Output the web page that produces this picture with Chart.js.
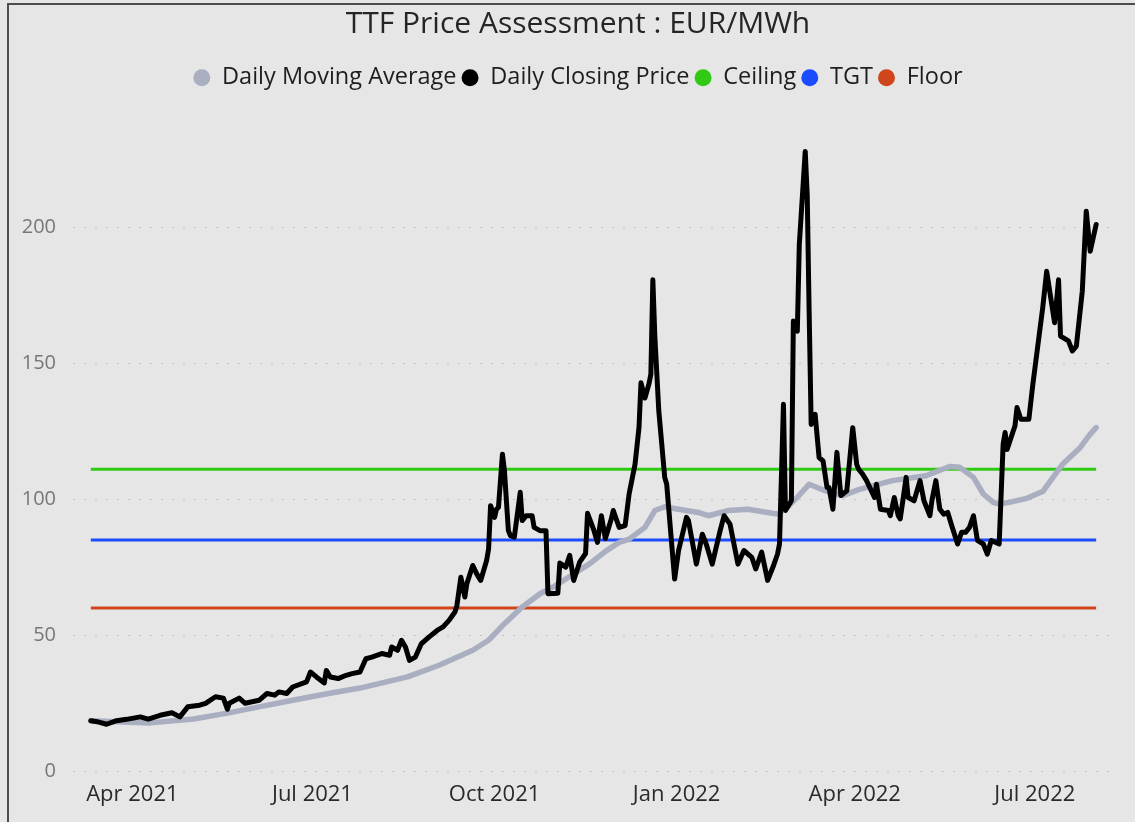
<!DOCTYPE html>
<html>
<head>
<meta charset="utf-8">
<script src="https://cdn.jsdelivr.net/npm/chart.js@4.4.0/dist/chart.umd.min.js"></script>
<style>
  html, body { margin: 0; padding: 0; background: #e6e6e6; }
  #wrap { position: relative; width: 1135px; height: 822px; }
  canvas { display: block; }
</style>
</head>
<body>
<div id="wrap"><canvas id="c" width="1135" height="822"></canvas></div>
<script>
// ---- data ----
const chartTitle = 'TTF Price Assessment : EUR/MWh';
const seriesNames = ['Daily Moving Average', 'Daily Closing Price', 'Ceiling', 'TGT', 'Floor'];

const closeDates = [
 '2021-03-11','2021-03-15','2021-03-19','2021-03-24','2021-03-29','2021-04-05','2021-04-09','2021-04-15','2021-04-21','2021-04-25',
 '2021-04-29','2021-05-05','2021-05-08','2021-05-13','2021-05-17','2021-05-19','2021-05-20','2021-05-25','2021-05-28','2021-06-04',
 '2021-06-08','2021-06-12','2021-06-14','2021-06-18','2021-06-21','2021-06-28','2021-06-30','2021-07-03','2021-07-07','2021-07-08',
 '2021-07-10','2021-07-14','2021-07-18','2021-07-21','2021-07-25','2021-07-28','2021-07-31','2021-08-05','2021-08-09','2021-08-10',
 '2021-08-13','2021-08-15','2021-08-17','2021-08-19','2021-08-22','2021-08-25','2021-08-29','2021-09-02','2021-09-05','2021-09-08',
 '2021-09-11','2021-09-12','2021-09-14','2021-09-16','2021-09-17','2021-09-20','2021-09-22','2021-09-24','2021-09-27','2021-09-28',
 '2021-09-29','2021-10-01','2021-10-02','2021-10-03','2021-10-05','2021-10-06','2021-10-08','2021-10-09','2021-10-11','2021-10-14',
 '2021-10-15','2021-10-17','2021-10-20','2021-10-21','2021-10-24','2021-10-27','2021-10-28','2021-11-02','2021-11-03','2021-11-06',
 '2021-11-08','2021-11-10','2021-11-13','2021-11-16','2021-11-17','2021-11-20','2021-11-22','2021-11-24','2021-11-26','2021-11-29',
 '2021-11-30','2021-12-03','2021-12-06','2021-12-08','2021-12-11','2021-12-13','2021-12-14','2021-12-16','2021-12-18','2021-12-19',
 '2021-12-20','2021-12-21','2021-12-23','2021-12-26','2021-12-27','2021-12-31','2022-01-02','2022-01-06','2022-01-07','2022-01-11',
 '2022-01-14','2022-01-16','2022-01-19','2022-01-23','2022-01-25','2022-01-28','2022-02-01','2022-02-04','2022-02-08','2022-02-10',
 '2022-02-13','2022-02-16','2022-02-19','2022-02-21','2022-02-22','2022-02-24','2022-02-25','2022-02-28','2022-03-01','2022-03-03',
 '2022-03-04','2022-03-07','2022-03-08','2022-03-09','2022-03-10','2022-03-12','2022-03-14','2022-03-16','2022-03-18','2022-03-19',
 '2022-03-21','2022-03-23','2022-03-25','2022-03-28','2022-03-31','2022-04-02','2022-04-03','2022-04-05','2022-04-07','2022-04-11',
 '2022-04-12','2022-04-14','2022-04-18','2022-04-19','2022-04-21','2022-04-23','2022-04-24','2022-04-27','2022-04-28','2022-05-01',
 '2022-05-04','2022-05-06','2022-05-09','2022-05-10','2022-05-12','2022-05-14','2022-05-16','2022-05-18','2022-05-20','2022-05-23',
 '2022-05-25','2022-05-27','2022-05-29','2022-05-31','2022-06-02','2022-06-05','2022-06-07','2022-06-09','2022-06-13','2022-06-15',
 '2022-06-16','2022-06-17','2022-06-21','2022-06-22','2022-06-24','2022-06-28','2022-06-30','2022-07-05','2022-07-07','2022-07-11',
 '2022-07-13','2022-07-14','2022-07-18','2022-07-20','2022-07-22','2022-07-25','2022-07-27','2022-07-29','2022-08-01'
];
const closeValues = [
 18.5,18.0,17.2,18.5,19.0,19.9,19.1,20.5,21.4,19.9,
 23.6,24.2,24.9,27.3,26.8,22.7,24.9,26.8,24.9,26.0,
 28.5,27.9,29.1,28.5,30.9,32.8,36.4,34.6,32.4,37.0,
 34.6,34.0,35.2,35.8,36.4,41.3,41.9,43.2,42.6,45.6,
 44.4,48.1,45.6,40.7,41.9,46.8,49.3,51.7,53.0,55.4,
 58.5,60.9,71.3,64.0,68.9,75.6,72.5,70.1,77.4,81.7,
 97.6,93.3,96.3,97.0,116.5,110.5,88.4,86.6,86.0,102.5,
 92.1,93.9,93.9,89.6,88.4,88.4,65.2,65.4,76.5,75.0,
 79.3,70.1,76.8,80.0,94.8,89.0,84.1,93.9,85.5,92.7,
 95.8,89.6,90.3,101.9,112.8,126.3,142.8,137.2,142.3,145.9,
 180.7,160.0,132.5,108.0,105.5,70.6,81.1,93.3,92.1,76.1,
 87.1,83.4,76.1,88.4,93.9,90.8,76.1,81.1,78.6,74.3,
 80.5,70.1,75.6,79.8,83.5,134.9,95.8,99.4,165.5,161.8,
 193.6,227.9,212.0,167.9,127.5,131.2,115.3,114.1,104.3,104.3,
 96.3,117.2,101.3,103.1,126.3,112.8,111.0,109.2,106.8,100.6,
 105.5,96.3,95.8,93.9,100.6,93.9,92.7,108.0,100.6,99.4,
 106.8,99.4,93.9,99.4,106.8,96.3,94.5,95.1,90.3,83.5,
 87.8,87.8,89.6,93.9,84.8,83.5,79.8,84.8,83.5,120.2,
 124.5,118.3,127.0,133.7,129.4,129.4,142.2,170.4,183.8,164.9,
 180.7,160.0,158.2,154.5,156.3,176.5,205.9,191.2,201.0
];

const avgDates = [
 '2021-03-11','2021-04-10','2021-05-02','2021-05-19','2021-06-04','2021-06-21','2021-07-09','2021-07-25','2021-08-18','2021-09-03',
 '2021-09-20','2021-09-28','2021-10-06','2021-10-15','2021-10-24','2021-11-01','2021-11-09','2021-11-18','2021-11-26','2021-12-03',
 '2021-12-08','2021-12-16','2021-12-21','2021-12-26','2022-01-02','2022-01-12','2022-01-17','2022-01-27','2022-02-06','2022-02-16',
 '2022-02-21','2022-02-26','2022-03-04','2022-03-09','2022-03-17','2022-03-26','2022-04-03','2022-04-20','2022-05-07','2022-05-19',
 '2022-05-24','2022-05-31','2022-06-05','2022-06-10','2022-06-13','2022-06-18','2022-06-27','2022-07-05','2022-07-09','2022-07-15',
 '2022-07-24','2022-07-29','2022-08-01'
];
const avgValues = [
 18.5,17.7,19.1,21.3,23.6,26.0,28.5,30.5,34.6,38.9,
 44.4,48.1,54.2,60.3,65.2,68.3,72.0,76.2,80.8,84.1,
 85.3,89.6,95.8,97.2,96.3,95.1,93.9,95.8,96.3,95.1,
 94.5,97.0,101.5,105.5,103.1,101.3,103.5,106.8,108.6,112.0,
 111.7,108.0,101.9,98.8,98.2,98.8,100.3,102.8,106.8,112.8,
 119.0,123.9,126.3
];

const ceilingValue = 111;
const tgtValue = 85;
const floorValue = 60;

const tickDates = ['2021-04-01','2021-07-01','2021-10-01','2022-01-01','2022-04-01','2022-07-01'];
const tickLabels = ['Apr 2021','Jul 2021','Oct 2021','Jan 2022','Apr 2022','Jul 2022'];
const yTicks = [0, 50, 100, 150, 200];

// ---- helpers ----
const BASE = Date.UTC(2021, 3, 1);
function dayOf(s) {
  const [y, m, d] = s.split('-').map(Number);
  return (Date.UTC(y, m - 1, d) - BASE) / 86400000;
}
function pts(dates, vals) { return dates.map((d, i) => ({ x: dayOf(d), y: vals[i] })); }
function flat(v) {
  return [{ x: dayOf(closeDates[0]), y: v }, { x: dayOf(closeDates[closeDates.length - 1]), y: v }];
}
const tickDays = tickDates.map(dayOf);

const framePlugin = {
  id: 'frame',
  afterLayout(chart) {
    // the header of the original visual is centred on a slightly wider frame
    const shift = 23;
    [chart.titleBlock, chart.legend].forEach(b => { if (b) { b.left += shift; b.right += shift; } });
  },
  beforeDraw(chart) {
    const ctx = chart.ctx;
    ctx.save();
    ctx.fillStyle = '#e6e6e6';
    ctx.fillRect(0, 0, chart.width, chart.height);
    ctx.strokeStyle = '#4d4d4d';
    ctx.lineWidth = 2;
    ctx.beginPath();
    ctx.moveTo(chart.width, 4);
    ctx.lineTo(8, 4);
    ctx.lineTo(8, chart.height);
    ctx.stroke();
    ctx.restore();
  }
};

const lineBase = { pointRadius: 0, pointHoverRadius: 0, tension: 0, borderJoinStyle: 'round', borderCapStyle: 'round', fill: false };

new Chart(document.getElementById('c'), {
  type: 'line',
  data: {
    datasets: [
      Object.assign({}, lineBase, { label: seriesNames[0], data: pts(avgDates, avgValues), borderColor: '#a9aec0', backgroundColor: '#a9aec0', borderWidth: 5.5, order: 1 }),
      Object.assign({}, lineBase, { label: seriesNames[1], data: pts(closeDates, closeValues), borderColor: '#000000', backgroundColor: '#000000', borderWidth: 5, order: 0 }),
      Object.assign({}, lineBase, { label: seriesNames[2], data: flat(ceilingValue), borderColor: '#30c914', backgroundColor: '#30c914', borderWidth: 3, borderCapStyle: 'butt', order: 2 }),
      Object.assign({}, lineBase, { label: seriesNames[3], data: flat(tgtValue), borderColor: '#1c4cff', backgroundColor: '#1c4cff', borderWidth: 3, borderCapStyle: 'butt', order: 3 }),
      Object.assign({}, lineBase, { label: seriesNames[4], data: flat(floorValue), borderColor: '#cf451c', backgroundColor: '#cf451c', borderWidth: 3, borderCapStyle: 'butt', order: 4 })
    ]
  },
  options: {
    responsive: false,
    animation: false,
    devicePixelRatio: 1,
    layout: { padding: { left: 0, right: 25, top: 0, bottom: 0 } },
    plugins: {
      tooltip: { enabled: false },
      title: {
        display: true,
        text: chartTitle,
        color: '#252525',
        font: { family: 'Open Sans', size: 30, weight: 'normal', lineHeight: 1.2 },
        padding: { top: 6, bottom: 19 }
      },
      legend: {
        display: true,
        labels: {
          usePointStyle: true,
          pointStyle: 'circle',
          boxWidth: 17,
          boxHeight: 12,
          padding: 5,
          color: '#1e1e1e',
          font: { family: 'Open Sans', size: 23.5 },
          sort: (a, b) => a.datasetIndex - b.datasetIndex,
          generateLabels(chart) {
            const items = Chart.defaults.plugins.legend.labels.generateLabels(chart);
            items.forEach(it => { it.lineWidth = 0; it.fillStyle = it.strokeStyle; });
            return items;
          }
        }
      }
    },
    scales: {
      x: {
        type: 'linear',
        min: -30,
        max: 494,
        grid: { display: false, drawTicks: false },
        border: { display: false },
        afterFit(scale) { scale.height = 51; },
        afterBuildTicks(scale) { scale.ticks = tickDays.map(v => ({ value: v })); },
        ticks: {
          autoSkip: false,
          maxRotation: 0,
          padding: 11,
          color: '#2a2a2a',
          font: { family: 'Open Sans', size: 22 },
          callback(value) { const i = tickDays.indexOf(value); return i >= 0 ? tickLabels[i] : ''; }
        }
      },
      y: {
        type: 'linear',
        min: 0,
        max: 247,
        afterFit(scale) { scale.width = 73; },
        afterBuildTicks(scale) { scale.ticks = yTicks.map(v => ({ value: v })); },
        grid: { color: '#c2c2c2', lineWidth: 1, drawTicks: false },
        border: { display: false, dash: [2, 9] },
        ticks: {
          padding: 17,
          color: '#777777',
          font: { family: 'Open Sans', size: 20 }
        }
      }
    }
  },
  plugins: [framePlugin]
});
</script>
</body>
</html>
